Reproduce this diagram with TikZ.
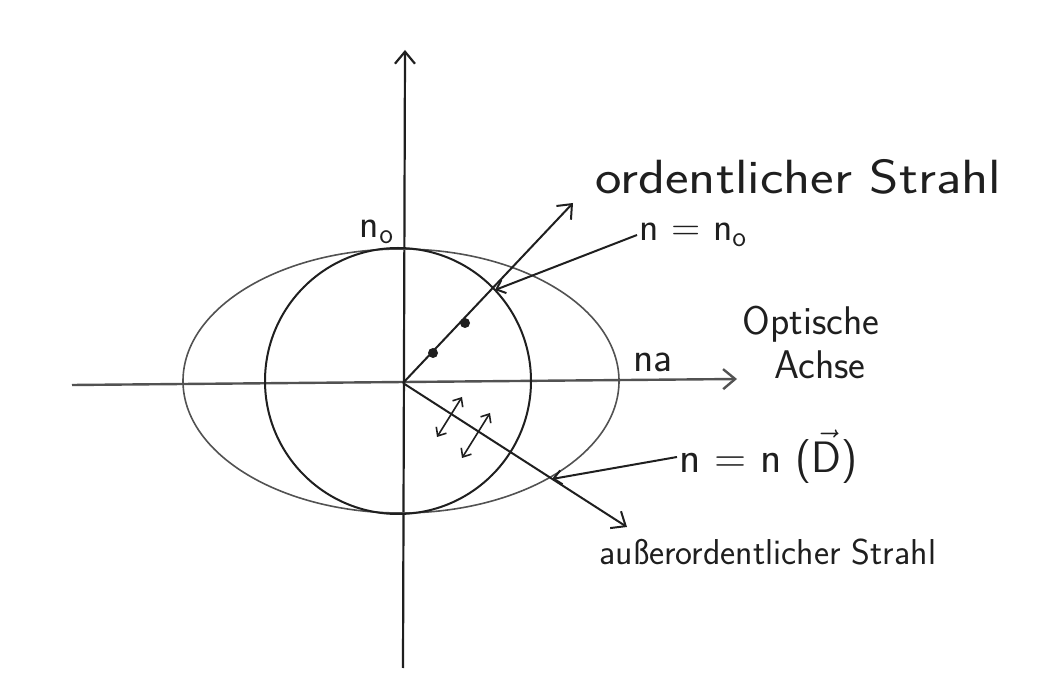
\documentclass[tikz,border=0pt]{standalone}
\usepackage{fontspec}
\usepackage{tikz}
\usetikzlibrary{arrows.meta}
\definecolor{pencil}{gray}{0.12}
\definecolor{greypencil}{gray}{0.32}
\tikzset{
  barb/.style={-{Straight Barb[length=6pt,width=10pt]}},
  smallbarb/.style={-{Straight Barb[length=4pt,width=7pt]}},
  twobarb/.style={{Straight Barb[length=3.5pt,width=6pt]}-{Straight Barb[length=3.5pt,width=6pt]}},
  hand/.style={font=\sffamily\fontsize{#1}{#1}\selectfont,inner sep=1pt,text=pencil},
  hand/.default=22
}

\begin{document}
\begin{tikzpicture}[x=0.5pt,y=-0.5pt]
\useasboundingbox (0,0) rectangle (1044,683);
% objects at depth 50:
\coordinate (O) at (403,383);
\coordinate (xl) at (72,385);
\coordinate (xr) at (737,379);
\coordinate (yb) at (403,668);
\coordinate (yt) at (405,50);
\path[draw=greypencil,line width=1.2pt,barb] (xl) -- (xr);
\path[draw=pencil,line width=1.1pt,barb] (yb) -- (yt);
% objects at depth 40:
\path[draw=greypencil,line width=0.8pt] (401,381) ellipse [x radius=218, y radius=132];
\path[draw=pencil,line width=1pt] (398,381) circle [radius=133];
% objects at depth 30:
\coordinate (rayo) at (573,203);
\coordinate (raye) at (627,527);
\coordinate (hito) at (495,290);
\coordinate (hite) at (552,479);
\path[draw=pencil,line width=1pt,barb] (O) -- (rayo);
\path[draw=pencil,line width=1pt,barb] (O) -- (raye);
\path[fill=pencil] (433,353) circle [radius=5];
\path[fill=pencil] (465,323) circle [radius=5];
\coordinate (pa1) at (437,437);
\coordinate (pb1) at (462,397);
\coordinate (pa2) at (462,458);
\coordinate (pb2) at (490,413);
\path[draw=pencil,line width=0.8pt,twobarb] (pa1) -- (pb1);
\path[draw=pencil,line width=0.8pt,twobarb] (pa2) -- (pb2);
% objects at depth 20:
\node[hand=24,anchor=west] (ordlabel) at (593,177) {\scalebox{1.17}[1]{ordentlicher Strahl}};
\node[hand=20,anchor=west] (nnolabel) at (637,235) {n = n\textsubscript{o}};
\node[hand=21] (nalabel) at (653,362) {na};
\node[hand=20,anchor=west,align=left] (achselabel) at (740,342) {Optische\\[2pt]\hspace*{0.8em}Achse};
\node[hand=22,anchor=west] (nDlabel) at (677,457) {n = n ($\vec{\textsf{D}}$)};
\node[hand=18,anchor=west] (aordlabel) at (597,552) {außerordentlicher Strahl};
\node[hand=20] (nolabel) at (377,232) {n\textsubscript{o}};
\path[draw=pencil,line width=1pt,smallbarb] (nnolabel.west) -- (hito);
\path[draw=pencil,line width=1pt,smallbarb] (nDlabel.west) -- (hite);
\end{tikzpicture}
\end{document}
